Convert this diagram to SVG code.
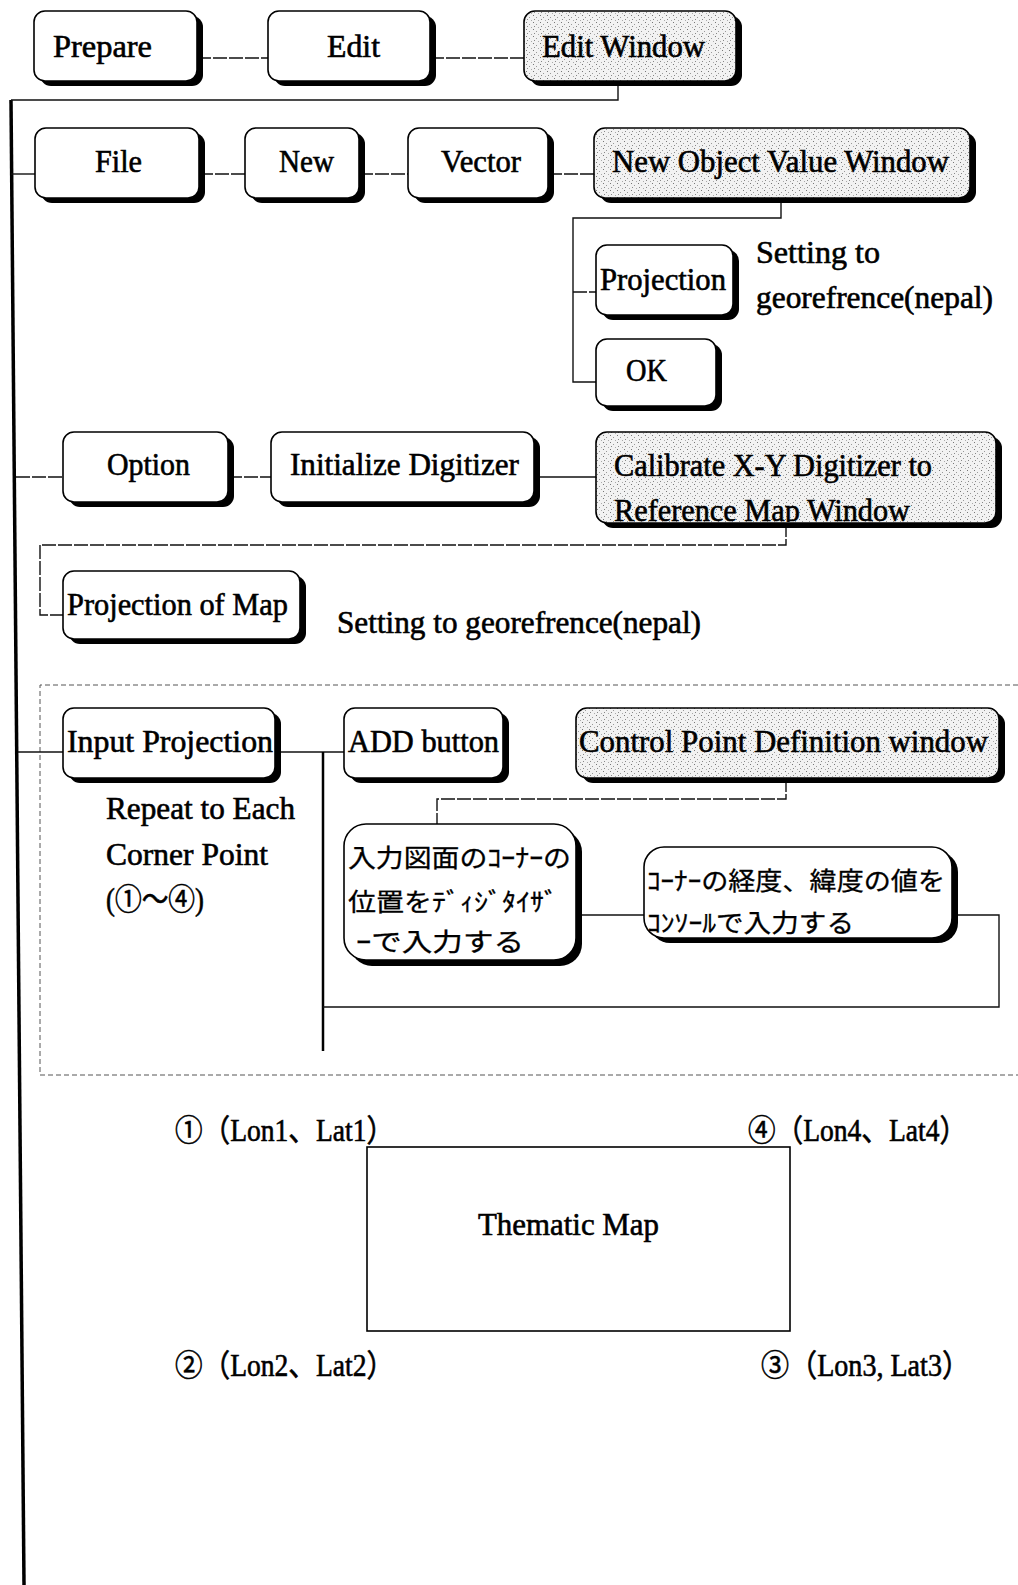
<svg xmlns="http://www.w3.org/2000/svg" width="1018" height="1585" viewBox="0 0 1018 1585">
  <defs>
    <!-- stipple fill for window-type nodes -->
    <pattern id="stipple" width="7" height="7" patternUnits="userSpaceOnUse">
      <rect width="7" height="7" fill="#f2f2f2"/>
      <rect x="1" y="1" width="1" height="1" fill="#777"/>
      <rect x="4" y="3" width="1" height="1" fill="#999"/>
      <rect x="2" y="5" width="1" height="1" fill="#888"/>
      <rect x="6" y="6" width="1" height="1" fill="#aaa"/>
    </pattern>
    <clipPath id="calibClip">
      <rect x="596" y="432" width="400" height="90" rx="10"/>
    </clipPath>
  </defs>
  <style>
    .shadow { fill: #000; }
    .box { fill: #fff; stroke: #000; stroke-width: 1.6; }
    .win { fill: url(#stipple); stroke: #000; stroke-width: 1.6; }
    .lbl { font-family: "Liberation Serif", "Noto Sans CJK JP", serif; font-size: 31px; fill: #000; stroke: #000; stroke-width: 0.6; }
    .jp { font-family: "Liberation Serif", "Noto Sans CJK JP", serif; font-size: 25px; fill: #000; stroke: #000; stroke-width: 0.3; }
    .conn { fill: none; stroke: #111; stroke-width: 1.4; stroke-dasharray: 14 2; }
    .solid { fill: none; stroke: #111; stroke-width: 1.4; }
    .trunk { fill: none; stroke: #000; stroke-width: 3.5; }
    .frame { fill: none; stroke: #555; stroke-width: 1; stroke-dasharray: 5 3; }
  </style>

  <rect width="1018" height="1585" fill="#fff"/>

  <!-- connectors -->
  <g id="connectors">
    <path class="trunk" d="M11,100 L24,1585"/>
    <path class="conn" d="M197,58 H268"/>
    <path class="conn" d="M430,58 H524"/>
    <path class="solid" d="M618,81 V100 H11"/>
    <!-- File row -->
    <path class="solid" d="M11,174 H35"/>
    <path class="conn" d="M199,174 H245"/>
    <path class="conn" d="M359,174 H408"/>
    <path class="conn" d="M548,174 H594"/>
    <path class="solid" d="M781,198 V218 H573 V382 H596"/>
    <path class="conn" d="M573,292 H596"/>
    <!-- Option row -->
    <path class="conn" d="M16,477 H63"/>
    <path class="conn" d="M228,477 H271"/>
    <path class="solid" d="M534,477 H596"/>
    <path class="conn" d="M786,523 V545 H40 V615 H63"/>
    <!-- Input projection group -->
    <path class="frame" d="M1018,685 H40 V1075 H1018"/>
    <path class="solid" d="M18,752 H63"/>
    <path class="solid" d="M275,752 H344"/>
    <path class="trunk" style="stroke-width:2.5" d="M323,752 V1051"/>
    <path class="conn" d="M786,778 V799 H437 V824"/>
    <path class="solid" d="M576,915 H644"/>
    <path class="solid" d="M952,915 H999 V1007 H323"/>
  </g>

  <!-- top row -->
  <g id="prepare">
    <rect class="shadow" x="40" y="16" width="163" height="70" rx="11"/>
    <rect class="box" x="34" y="11" width="163" height="70" rx="11"/>
    <text class="lbl" x="53" y="57" textLength="99" lengthAdjust="spacingAndGlyphs">Prepare</text>
  </g>
  <g id="edit">
    <rect class="shadow" x="274" y="16" width="162" height="70" rx="11"/>
    <rect class="box" x="268" y="11" width="162" height="70" rx="11"/>
    <text class="lbl" x="327" y="57" textLength="53" lengthAdjust="spacingAndGlyphs">Edit</text>
  </g>
  <g id="edit-window">
    <rect class="shadow" x="530" y="16" width="212" height="70" rx="11"/>
    <rect class="win" x="524" y="11" width="212" height="70" rx="11"/>
    <text class="lbl" x="542" y="57" textLength="163" lengthAdjust="spacingAndGlyphs">Edit Window</text>
  </g>

  <!-- File row -->
  <g id="file">
    <rect class="shadow" x="41" y="133" width="164" height="70" rx="11"/>
    <rect class="box" x="35" y="128" width="164" height="70" rx="11"/>
    <text class="lbl" x="95" y="172" textLength="47" lengthAdjust="spacingAndGlyphs">File</text>
  </g>
  <g id="new">
    <rect class="shadow" x="251" y="133" width="114" height="70" rx="11"/>
    <rect class="box" x="245" y="128" width="114" height="70" rx="11"/>
    <text class="lbl" x="279" y="172" textLength="55" lengthAdjust="spacingAndGlyphs">New</text>
  </g>
  <g id="vector">
    <rect class="shadow" x="414" y="133" width="140" height="70" rx="11"/>
    <rect class="box" x="408" y="128" width="140" height="70" rx="11"/>
    <text class="lbl" x="441" y="172" textLength="80" lengthAdjust="spacingAndGlyphs">Vector</text>
  </g>
  <g id="new-object-value-window">
    <rect class="shadow" x="600" y="133" width="376" height="70" rx="11"/>
    <rect class="win" x="594" y="128" width="376" height="70" rx="11"/>
    <text class="lbl" x="612" y="172" textLength="337" lengthAdjust="spacingAndGlyphs">New Object Value Window</text>
  </g>
  <g id="projection">
    <rect class="shadow" x="602" y="250" width="137" height="70" rx="11"/>
    <rect class="box" x="596" y="245" width="137" height="70" rx="11"/>
    <text class="lbl" x="600" y="290" textLength="126" lengthAdjust="spacingAndGlyphs">Projection</text>
  </g>
  <g id="projection-note">
    <text class="lbl" x="756" y="263" textLength="124" lengthAdjust="spacingAndGlyphs">Setting to</text>
    <text class="lbl" x="756" y="308" textLength="237" lengthAdjust="spacingAndGlyphs">georefrence(nepal)</text>
  </g>
  <g id="ok">
    <rect class="shadow" x="602" y="344" width="120" height="67" rx="11"/>
    <rect class="box" x="596" y="339" width="120" height="67" rx="11"/>
    <text class="lbl" x="626" y="381" textLength="41" lengthAdjust="spacingAndGlyphs">OK</text>
  </g>

  <!-- Option row -->
  <g id="option">
    <rect class="shadow" x="69" y="437" width="165" height="70" rx="11"/>
    <rect class="box" x="63" y="432" width="165" height="70" rx="11"/>
    <text class="lbl" x="107" y="475" textLength="83" lengthAdjust="spacingAndGlyphs">Option</text>
  </g>
  <g id="initialize-digitizer">
    <rect class="shadow" x="277" y="437" width="263" height="70" rx="11"/>
    <rect class="box" x="271" y="432" width="263" height="70" rx="11"/>
    <text class="lbl" x="290" y="475" textLength="229" lengthAdjust="spacingAndGlyphs">Initialize Digitizer</text>
  </g>
  <g id="calibrate">
    <rect class="shadow" x="602" y="437" width="400" height="91" rx="11"/>
    <rect class="win" x="596" y="432" width="400" height="91" rx="11"/>
    <text class="lbl" x="614" y="476" textLength="318" lengthAdjust="spacingAndGlyphs">Calibrate X-Y Digitizer to</text>
    <text class="lbl" x="614" y="521" textLength="296" lengthAdjust="spacingAndGlyphs" clip-path="url(#calibClip)">Reference Map Window</text>
  </g>
  <g id="projection-of-map">
    <rect class="shadow" x="69" y="576" width="237" height="68" rx="11"/>
    <rect class="box" x="63" y="571" width="237" height="68" rx="11"/>
    <text class="lbl" x="67" y="615" textLength="221" lengthAdjust="spacingAndGlyphs">Projection of Map</text>
  </g>
  <text class="lbl" x="337" y="633" textLength="364" lengthAdjust="spacingAndGlyphs">Setting to georefrence(nepal)</text>

  <!-- Input projection group -->
  <g id="input-projection">
    <rect class="shadow" x="69" y="713" width="212" height="70" rx="11"/>
    <rect class="box" x="63" y="708" width="212" height="70" rx="11"/>
    <text class="lbl" x="67" y="752" textLength="206" lengthAdjust="spacingAndGlyphs">Input Projection</text>
  </g>
  <g id="add-button">
    <rect class="shadow" x="350" y="713" width="159" height="70" rx="11"/>
    <rect class="box" x="344" y="708" width="159" height="70" rx="11"/>
    <text class="lbl" x="348" y="752" textLength="151" lengthAdjust="spacingAndGlyphs">ADD button</text>
  </g>
  <g id="control-point-definition-window">
    <rect class="shadow" x="582" y="713" width="423" height="70" rx="11"/>
    <rect class="win" x="576" y="708" width="423" height="70" rx="11"/>
    <text class="lbl" x="579" y="752" textLength="409" lengthAdjust="spacingAndGlyphs">Control Point Definition window</text>
  </g>
  <g id="repeat-note">
    <text class="lbl" x="106" y="819" textLength="189" lengthAdjust="spacingAndGlyphs">Repeat to Each</text>
    <text class="lbl" x="106" y="865" textLength="162" lengthAdjust="spacingAndGlyphs">Corner Point</text>
    <text class="lbl" x="106" y="910" textLength="98" lengthAdjust="spacingAndGlyphs">(①～④)</text>
  </g>
  <g id="digitize-corner">
    <rect class="shadow" x="350" y="830" width="232" height="136" rx="22"/>
    <rect class="box" x="344" y="824" width="232" height="136" rx="22"/>
    <text class="jp" x="348" y="867" textLength="223" lengthAdjust="spacingAndGlyphs">入力図面のｺｰﾅｰの</text>
    <text class="jp" x="348" y="911" textLength="210" lengthAdjust="spacingAndGlyphs">位置をﾃﾞｨｼﾞﾀｲｻﾞ</text>
    <text class="jp" x="356" y="951" textLength="168" lengthAdjust="spacingAndGlyphs">ｰで入力する</text>
  </g>
  <g id="enter-lonlat">
    <rect class="shadow" x="650" y="852" width="308" height="91" rx="20"/>
    <rect class="box" x="644" y="847" width="308" height="91" rx="20"/>
    <text class="jp" x="647" y="890" textLength="298" lengthAdjust="spacingAndGlyphs">ｺｰﾅｰの経度、緯度の値を</text>
    <text class="jp" x="647" y="932" textLength="207" lengthAdjust="spacingAndGlyphs">ｺﾝｿｰﾙで入力する</text>
  </g>

  <!-- corner point sketch -->
  <g id="thematic-map">
    <rect x="367" y="1147" width="423" height="184" fill="#fff" stroke="#000" stroke-width="1.6"/>
    <text class="lbl" x="478" y="1235" textLength="181" lengthAdjust="spacingAndGlyphs">Thematic Map</text>
  </g>
  <g id="corner-labels">
    <text class="lbl" x="175" y="1141" textLength="219" lengthAdjust="spacingAndGlyphs">①（Lon1、Lat1）</text>
    <text class="lbl" x="748" y="1141" textLength="219" lengthAdjust="spacingAndGlyphs">④（Lon4、Lat4）</text>
    <text class="lbl" x="175" y="1376" textLength="219" lengthAdjust="spacingAndGlyphs">②（Lon2、Lat2）</text>
    <text class="lbl" x="761" y="1376" textLength="209" lengthAdjust="spacingAndGlyphs">③（Lon3, Lat3）</text>
  </g>
</svg>
